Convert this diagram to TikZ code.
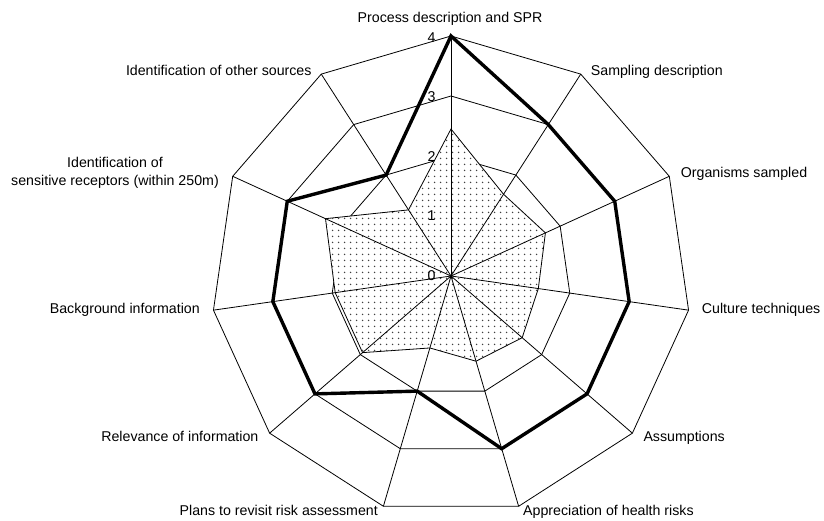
\documentclass[tikz,border=0pt]{standalone}
\usepackage{fontspec}
\setmainfont{Liberation Sans}
\usetikzlibrary{patterns.meta}
\tikzdeclarepattern{
  name=sparsedots,
  type=uncolored,
  tile size={(6pt,6pt)},
  bounding box={(0pt,0pt) and (6pt,6pt)},
  code={\fill (3pt,3pt) circle (0.9pt);}
}
\begin{document}
\begin{tikzpicture}[x=1pt,y=-1pt,
  font=\fontsize{14.2}{17}\selectfont,
  grid/.style={draw=black, line width=0.8pt, line join=miter},
  spoke/.style={draw=black, line width=0.8pt},
  series/.style={draw=black, line width=3.4pt, line join=miter},
  area/.style={draw=black, line width=0.8pt, fill=white, postaction={pattern=sparsedots, pattern color=black!75}},
  lab/.style={inner sep=0pt},
  num/.style={inner sep=0pt, anchor=center}]
\useasboundingbox (0,0) rectangle (824,520);
\def\cx{451}\def\cy{276}\def\U{60}
% grid coordinates
\coordinate (c) at (\cx,\cy);
\foreach \l in {1,2,3,4}{
  \foreach \k in {0,...,10}{
    \coordinate (g\l-\k) at ({\cx+\l*\U*sin(\k*360/11)},{\cy-\l*\U*cos(\k*360/11)});
  }
}
% rings
\foreach \l in {1,2,3,4}{
  \draw[grid] (g\l-0) -- (g\l-1) -- (g\l-2) -- (g\l-3) -- (g\l-4) -- (g\l-5) -- (g\l-6) -- (g\l-7) -- (g\l-8) -- (g\l-9) -- (g\l-10) -- cycle;
}
% dotted series
\foreach \k/\v in {0/2.45,1/1.62,2/1.73,3/1.47,4/1.57,5/1.48,6/1.25,7/1.95,8/1.95,9/2.3,10/1.31}{
  \coordinate (d\k) at ({\cx+\v*\U*sin(\k*360/11)},{\cy-\v*\U*cos(\k*360/11)});
}
\draw[area] (d0) -- (d1) -- (d2) -- (d3) -- (d4) -- (d5) -- (d6) -- (d7) -- (d8) -- (d9) -- (d10) -- cycle;
% spokes
\foreach \k in {0,...,10}{
  \draw[spoke] (c) -- (g4-\k);
}
% thick series
\draw[series] (g4-0) -- (g3-1) -- (g3-2) -- (g3-3) -- (g3-4) -- (g3-5) -- (g2-6) -- (g3-7) -- (g3-8) -- (g3-9) -- (g2-10) -- cycle;
% axis numbers
\node[num] (n0) at (431.5,276) {0};
\node[num] (n1) at (431.5,216) {1};
\node[num] (n2) at (431.5,156.5) {2};
\node[num] (n3) at (431.5,97) {3};
\node[num] (n4) at (431.5,37.5) {4};
% category labels
\node[lab, anchor=base] (L0) at (450,22) {Process description and SPR};
\node[lab, anchor=base west] (L1) at (590.7,75.7) {Sampling description};
\node[lab, anchor=base west] (L2) at (680.7,177.7) {Organisms sampled};
\node[lab, anchor=base west] (L3) at (701.7,313.3) {Culture techniques};
\node[lab, anchor=base west] (L4) at (643.3,441) {Assumptions};
\node[lab, anchor=base west] (L5) at (523,515) {Appreciation of health risks};
\node[lab, anchor=base east] (L6) at (378,515) {Plans to revisit risk assessment};
\node[lab, anchor=base east] (L7) at (258.6,441) {Relevance of information};
\node[lab, anchor=base east] (L8) at (200,313.3) {Background information};
\node[lab, align=center, anchor=center] (L9) at (115,173) {Identification of\\[1.5pt]sensitive receptors (within 250m)};
\node[lab, anchor=base east] (L10) at (311.7,75) {Identification of other sources};
\end{tikzpicture}
\end{document}
